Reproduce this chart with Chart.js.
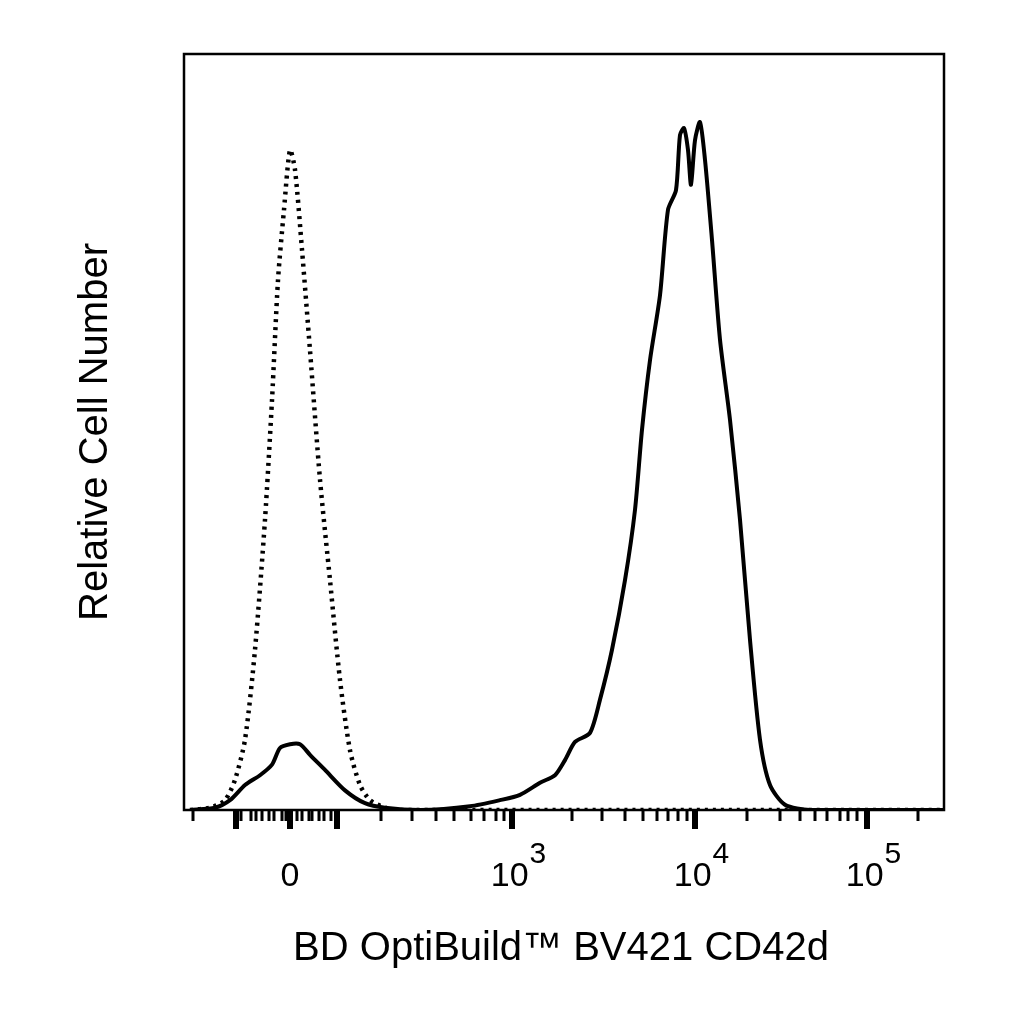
<!DOCTYPE html>
<html><head><meta charset="utf-8">
<script src="https://cdn.jsdelivr.net/npm/chart.js@4"></script>
<style>html,body{margin:0;background:#fff}#w{width:1024px;height:1024px}</style>
</head><body><div id="w"><canvas id="c"></canvas></div>
<script>
// x values are display channels of the biexponential axis
const solidX = [190,215,230,245,260,272,280,290,300,310,325,345,365,385,420,470,500,520,540,555,565,575,590,600,612,625,635,642,650,660,668,676,680,684,688,691,695,700,705,712,720,730,740,750,760,770,785,810,944];
const solidY = [0,0.3,1.3,3.3,4.6,6.0,8.2,8.7,8.7,7.3,5.3,2.6,0.9,0.3,0,0.5,1.3,2.0,3.6,4.6,6.6,9.0,10.2,14.6,21.2,30.4,39.7,50.3,59.5,68.1,79.4,82.0,89.3,90.2,87.3,82.7,88.6,91.0,86.0,75.4,62.2,51.6,38.4,22.5,9.3,3.3,0.7,0,0];
const dotX = [190,210,225,235,245,255,265,272,278,284,290,295,302,310,320,330,340,350,360,370,385,400,944];
const dotY = [0,0.3,1.3,4.0,9.3,21.2,38.4,54.2,70.1,79.4,87.3,84.7,74.1,60.8,43.7,30.4,17.2,7.9,3.3,1.3,0.3,0,0];
const majorTicks = [236,290,337,512,695,867];
const minorTicks = [193,241,251,256,262,269,274,282,286,297,302,309,312,319,324,331,381,412,436,454,471,484,496,504,572,602,625,643,657,668,678,687,747,780,800,815,827,840,848,857,918];
const tickLabels = [{x:290,t:"0",e:""},{x:512,t:"10",e:"3"},{x:695,t:"10",e:"4"},{x:867,t:"10",e:"5"}];
const xTitle = "BD OptiBuild™ BV421 CD42d";
const yTitle = "Relative Cell Number";

const deco = {id:'deco', afterDraw(ch){
  const c=ch.ctx, a=ch.chartArea, xs=ch.scales.x;
  c.save();
  c.strokeStyle='#000'; c.lineWidth=2.5;
  c.strokeRect(a.left,a.top,a.right-a.left,a.bottom-a.top);
  c.fillStyle='#000';
  minorTicks.forEach(v=>{const p=xs.getPixelForValue(v); c.fillRect(p-1.5,a.bottom,3,11);});
  majorTicks.forEach(v=>{const p=xs.getPixelForValue(v); c.fillRect(p-3,a.bottom,6,19);});
  const F='"Liberation Sans", Arial';
  c.textBaseline='alphabetic'; c.textAlign='left';
  tickLabels.forEach(l=>{
    const p=xs.getPixelForValue(l.x);
    c.font='34px '+F;
    const w=c.measureText(l.t).width;
    c.font='30px '+F;
    const ew = l.e? c.measureText(l.e).width:0;
    const x0=p-(w+ew)/2+(l.e?6:0);
    c.font='34px '+F; c.fillText(l.t,x0,a.bottom+76);
    if(l.e){c.font='30px '+F; c.fillText(l.e,x0+w+1,a.bottom+53);}
  });
  c.font='40px '+F; c.textAlign='center';
  c.fillText(xTitle,(a.left+a.right)/2-3,a.bottom+150);
  c.translate(107,432); c.rotate(-Math.PI/2); c.fillText(yTitle,0,0);
  c.restore();
}};

new Chart(document.getElementById('c'),{
  type:'line',
  data:{datasets:[
    {data:solidX.map((x,i)=>({x,y:solidY[i]})),borderColor:'#000',borderWidth:4,pointRadius:0,tension:0.25,fill:false},
    {data:dotX.map((x,i)=>({x,y:dotY[i]})),borderColor:'#000',borderWidth:4.5,borderDash:[3,5],pointRadius:0,tension:0.25,fill:false}
  ]},
  options:{responsive:true,maintainAspectRatio:false,animation:false,
    layout:{padding:{left:184,right:80,top:54,bottom:214}},
    plugins:{legend:{display:false},tooltip:{enabled:false}},
    scales:{x:{type:'linear',min:184,max:944,display:false},y:{min:0,max:100,display:false}}
  },
  plugins:[deco]
});
</script></body></html>
